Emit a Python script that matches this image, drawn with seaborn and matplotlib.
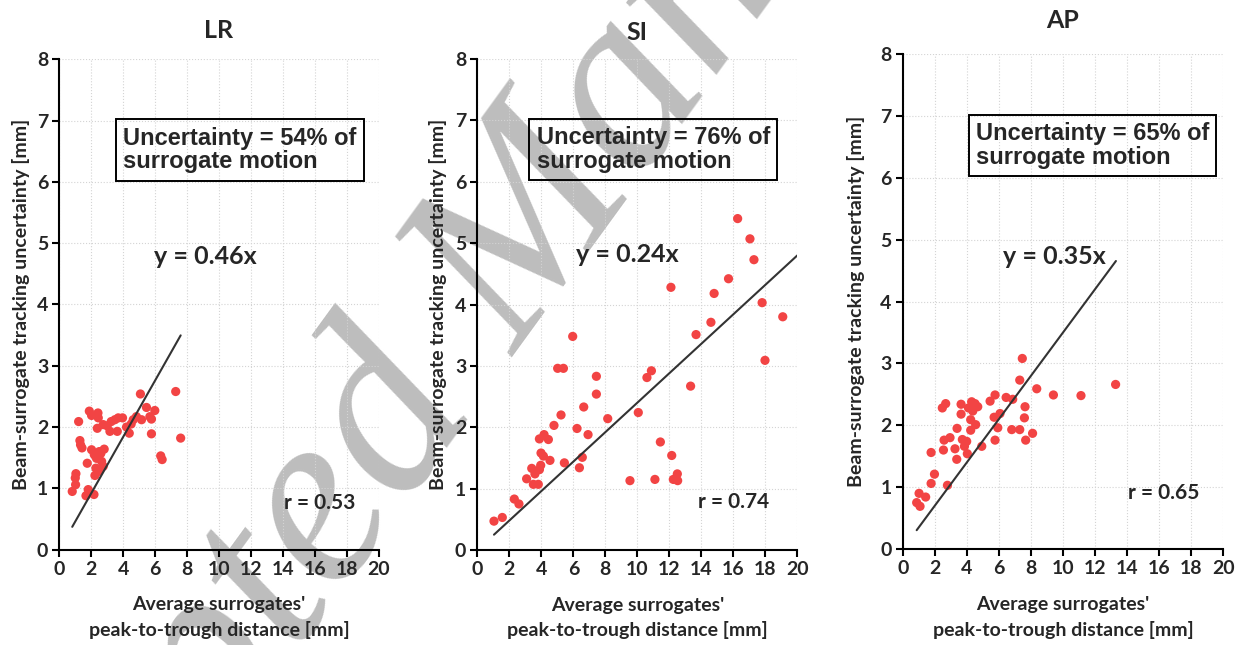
import matplotlib
matplotlib.use('Agg')
import matplotlib.pyplot as plt
import seaborn as sns
import pandas as pd
import numpy as np

# values
lr_x = [0.81, 1.02, 1.00, 1.04, 1.21, 1.29, 1.33, 1.42, 1.75, 1.67, 1.81, 2.17, 1.88, 2.02,
        2.42, 2.44, 2.38, 2.02, 2.19, 2.33, 2.29, 2.23, 2.54, 2.65, 2.75, 2.50, 2.81, 2.75,
        3.17, 3.25, 3.48, 3.69, 3.96, 3.63, 4.21, 4.38, 4.63, 4.83, 5.08, 5.15, 5.46, 5.67,
        5.77, 5.98, 5.77, 6.35, 6.44, 7.29, 7.60, 3.00, 4.50, 2.60, 2.40]
lr_y = [0.95, 1.06, 1.17, 1.24, 2.09, 1.78, 1.71, 1.66, 1.41, 0.88, 0.98, 0.90, 2.26, 2.19,
        2.23, 2.15, 1.98, 1.63, 1.55, 1.49, 1.33, 1.21, 1.30, 1.44, 1.36, 1.60, 1.64, 2.04,
        1.93, 2.09, 2.12, 2.15, 2.15, 1.93, 2.00, 1.90, 2.12, 2.17, 2.54, 2.12, 2.32, 2.17,
        2.13, 2.27, 1.89, 1.53, 1.47, 2.58, 1.82, 2.02, 2.05, 1.57, 1.27]

si_x = [1.04, 1.56, 2.31, 2.60, 3.08, 3.40, 3.50, 3.81, 3.60, 3.88, 3.96, 3.98, 4.13, 3.88,
        4.17, 4.44, 4.54, 4.79, 5.02, 5.38, 5.23, 5.44, 5.96, 6.23, 6.38, 6.56, 6.65, 6.92,
        7.44, 7.44, 8.15, 9.54, 10.06, 10.60, 10.88, 11.10, 11.44, 12.15, 12.25, 12.50, 12.52,
        13.33, 13.67, 14.60, 17.98, 19.09, 16.27, 17.04, 17.29, 15.70, 12.10, 14.80, 17.80]
si_y = [0.47, 0.53, 0.83, 0.75, 1.16, 1.33, 1.07, 1.07, 1.24, 1.31, 1.38, 1.58, 1.53, 1.81,
        1.88, 1.80, 1.46, 2.03, 2.96, 2.96, 2.20, 1.42, 3.48, 1.98, 1.34, 1.51, 2.33, 1.88,
        2.54, 2.83, 2.14, 1.13, 2.24, 2.81, 2.92, 1.15, 1.76, 1.54, 1.15, 1.24, 1.13,
        2.67, 3.51, 3.71, 3.09, 3.80, 5.40, 5.07, 4.73, 4.42, 4.28, 4.18, 4.03]

ap_x = [0.87, 1.02, 1.08, 1.43, 1.77, 1.98, 1.77, 2.47, 2.68, 2.58, 2.54, 2.79, 2.95, 3.26,
        3.37, 3.39, 3.64, 3.64, 3.72, 3.85, 3.99, 4.03, 4.10, 4.24, 4.24, 4.37, 4.51, 4.55,
        4.68, 4.30, 4.93, 5.45, 5.70, 5.76, 5.76, 5.93, 6.07, 6.45, 6.80, 6.86, 7.30, 7.30,
        7.46, 7.63, 7.59, 7.67, 8.10, 8.36, 9.40, 11.12, 13.28]
ap_y = [0.75, 0.90, 0.69, 0.84, 1.06, 1.21, 1.56, 2.28, 2.35, 1.76, 1.60, 1.03, 1.80, 1.62,
        1.45, 1.95, 2.34, 2.18, 1.77, 1.66, 1.74, 1.54, 2.28, 2.09, 1.92, 2.23, 2.35, 2.01,
        2.30, 2.38, 1.66, 2.39, 2.13, 2.49, 1.76, 1.96, 2.19, 2.45, 1.93, 2.42, 1.93, 2.73,
        3.08, 2.30, 2.12, 1.76, 1.87, 2.59, 2.49, 2.48, 2.66]

titles = ['LR', 'SI', 'AP']
slopes = [0.46, 0.24, 0.35]
fit_end = [7.6, 20.0, 13.3]
r_values = ['0.53', '0.74', '0.65']
percent = ['54%', '76%', '65%']

sns.set_style('white')
plt.rcParams['font.family'] = ['Lato', 'DejaVu Sans']
plt.rcParams['font.weight'] = 'bold'

fig = plt.figure(figsize=(12.46, 6.45), dpi=100)
# watermark behind the panels
fig.text(0.42, 0.60, 'Accepted Manuscript', rotation=54, fontsize=182,
         family='Liberation Serif', style='italic', fontweight='normal',
         color='#bdbdbd', ha='center', va='center', zorder=-10)

rects = [[0.0476, 0.1478, 0.2563, 0.7603],
         [0.3831, 0.1473, 0.2568, 0.7612],
         [0.7245, 0.1488, 0.2573, 0.7674]]
title_pad = [15, 14, 18.5]
box_x = [4.0, 3.7, 4.55]
eq_pos = [(9.12, 4.79), (9.36, 4.81), (9.44, 4.73)]
r_pos = [(16.3, 0.76), (16.04, 0.79), (16.26, 0.90)]
ylab_x = [-0.092, -0.095, -0.118]

data = [(lr_x, lr_y), (si_x, si_y), (ap_x, ap_y)]

for i, (xs, ys) in enumerate(data):
    ax = fig.add_axes(rects[i])
    ax.set_facecolor('none')
    df = pd.DataFrame({'dist': xs, 'unc': ys})
    sns.scatterplot(data=df, x='dist', y='unc', ax=ax, color='#f24444',
                    s=44, edgecolor='none', zorder=3)
    fx = np.array([min(xs), fit_end[i]])
    sns.lineplot(x=fx, y=slopes[i] * fx, ax=ax, color='#333333', lw=1.5, zorder=4)

    ax.set_xlim(0, 20)
    ax.set_ylim(0, 8)
    ax.set_xticks(range(0, 21, 2))
    ax.set_yticks(range(0, 9))
    ax.grid(True, ls=':', color='#d4d4d4', lw=0.8)
    sns.despine(ax=ax)
    for s in ['left', 'bottom']:
        ax.spines[s].set_linewidth(1.5)
        ax.spines[s].set_color('black')
    ax.tick_params(direction='out', length=5, width=1.5, labelsize=14,
                   color='black', pad=3, left=True, bottom=True)

    ax.set_title(titles[i], fontsize=18, fontweight='bold', pad=title_pad[i])
    ax.set_xlabel("Average surrogates'\npeak-to-trough distance [mm]", fontsize=14,
                  fontweight='bold', linespacing=1.5)
    ax.xaxis.set_label_coords(0.5, -0.095)
    ax.set_ylabel('Beam-surrogate tracking uncertainty [mm]', fontsize=14,
                  fontweight='bold')
    ax.yaxis.set_label_coords(ylab_x[i], 0.5)

    ax.text(box_x[i], 6.52, 'Uncertainty = ' + percent[i] + ' of\nsurrogate motion',
            family='Liberation Sans', fontweight='bold', fontsize=17,
            ha='left', va='center', linespacing=1.05,
            bbox=dict(boxstyle='square,pad=0.3', fc='none', ec='black', lw=1.4))
    ax.text(eq_pos[i][0], eq_pos[i][1], 'y = %.2fx' % slopes[i], fontsize=18,
            fontweight='bold', ha='center', va='center')
    ax.text(r_pos[i][0], r_pos[i][1], 'r = ' + r_values[i], fontsize=15,
            fontweight='bold', ha='center', va='center')

fig.savefig('out.png', dpi=100)
